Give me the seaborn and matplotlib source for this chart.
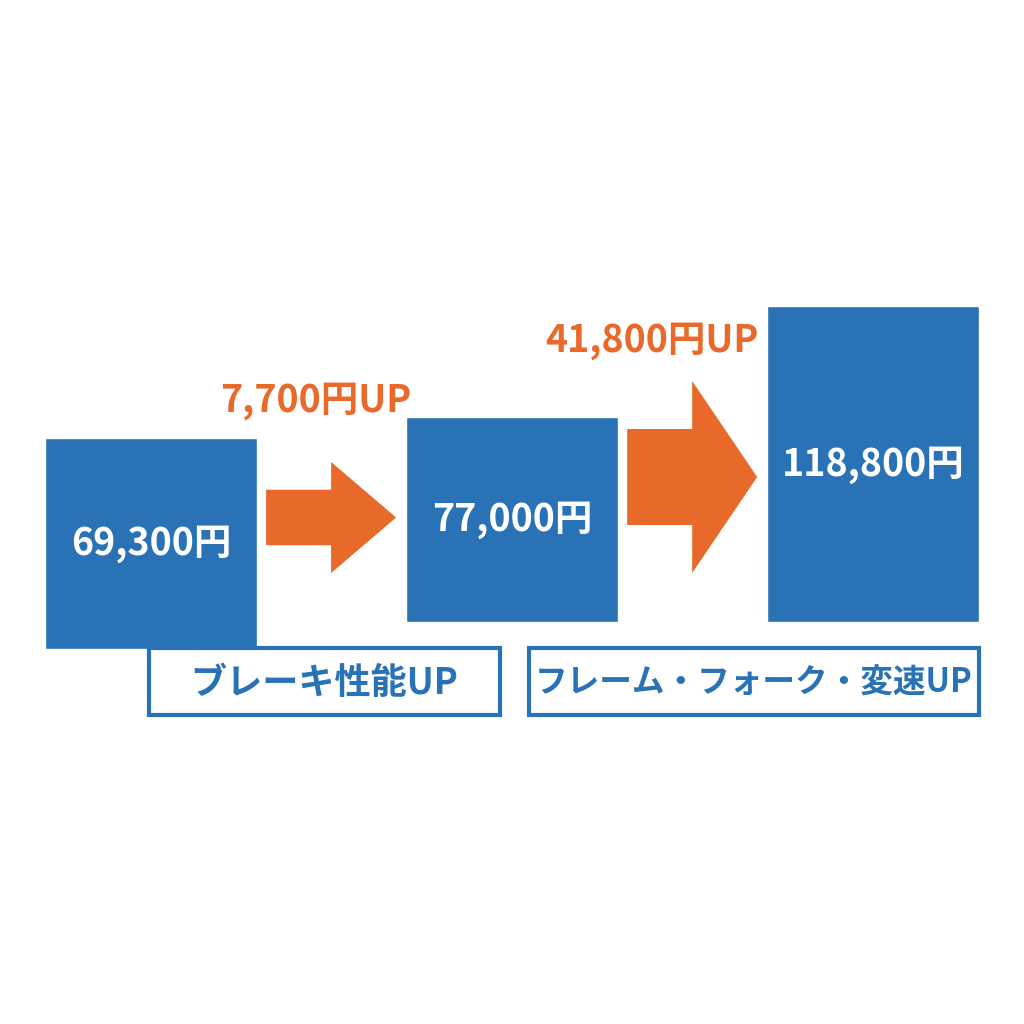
import matplotlib
matplotlib.use("Agg")

import pandas as pd
import seaborn as sns
import matplotlib.pyplot as plt
import matplotlib.patches as mpatches

# データ
grades = ["標準", "ブレーキ強化", "上位"]
prices = [69300, 77000, 118800]
upgrades = [7700, 41800]
captions = ["ブレーキ性能UP", "フレーム・フォーク・変速UP"]

BLUE = "#2872b5"
ORANGE = "#e8692a"

sns.set_theme(style="white")
plt.rcParams['font.family'] = ['Noto Sans CJK JP', 'DejaVu Sans']

df = pd.DataFrame({"grade": grades, "price": prices})

fig = plt.figure(figsize=(10.24, 10.24), dpi=100)
ax = fig.add_axes([0, 0, 1, 1])

sns.barplot(data=df, x="grade", y="price", order=grades, color=BLUE,
            saturation=1, width=0.587, ax=ax)

ax.set_xlim(-0.418, 2.418)
ax.set_ylim(-151150, 233870)
ax.set_axis_off()

# キャプション枠 (x0, x1) ※ データ座標
cap_spans = [(-0.006, 0.967), (1.047, 2.294)]
cap_sizes = [26, 23.5]   # 中黒が全角になる分、右は少し小さく
cap_y0, cap_y1 = -35000, -9780
for (x0, x1), txt, fs in zip(cap_spans, captions, cap_sizes):
    ax.add_patch(mpatches.Rectangle((x0, cap_y0), x1 - x0, cap_y1 - cap_y0,
                                    fill=False, edgecolor=BLUE, linewidth=3, zorder=3))
    ax.text((x0 + x1) / 2, (cap_y0 + cap_y1) / 2 - 600, txt, color=BLUE,
            fontsize=fs, fontweight="bold", ha="center", va="center", zorder=4)

# 左の箱だけキャプション枠まで下へ伸びている
bars = ax.patches[:len(prices)]
b0 = bars[0]
top0 = b0.get_y() + b0.get_height()
b0.set_y(-10150)
b0.set_height(top0 + 10150)

# 価格
for bar, p in zip(bars, prices):
    cx = bar.get_x() + bar.get_width() / 2
    cy = bar.get_y() + bar.get_height() / 2
    ax.text(cx, cy, f"{p:,}円", color="white", fontsize=27, fontweight="bold",
            ha="center", va="center", zorder=4)

# 矢印
arrow_base = 18420
head_h = [41740, 72190]
head_len = 0.18
label_pos = [(0.457, 83470), (1.388, 106030)]
for i, (d, hh) in enumerate(zip(upgrades, head_h)):
    x0 = i + 0.319
    yc = arrow_base + hh / 2
    ax.add_patch(mpatches.FancyArrow(x0, yc, 0.36, 0, width=hh / 2, head_width=hh,
                                     head_length=head_len, length_includes_head=True,
                                     color=ORANGE, linewidth=0, zorder=2))
    lx, ly = label_pos[i]
    ax.text(lx, ly, f"{d:,}円UP", color=ORANGE, fontsize=27, fontweight="bold",
            ha="center", va="center", zorder=4)

fig.savefig("out.png", dpi=100, facecolor="white")
